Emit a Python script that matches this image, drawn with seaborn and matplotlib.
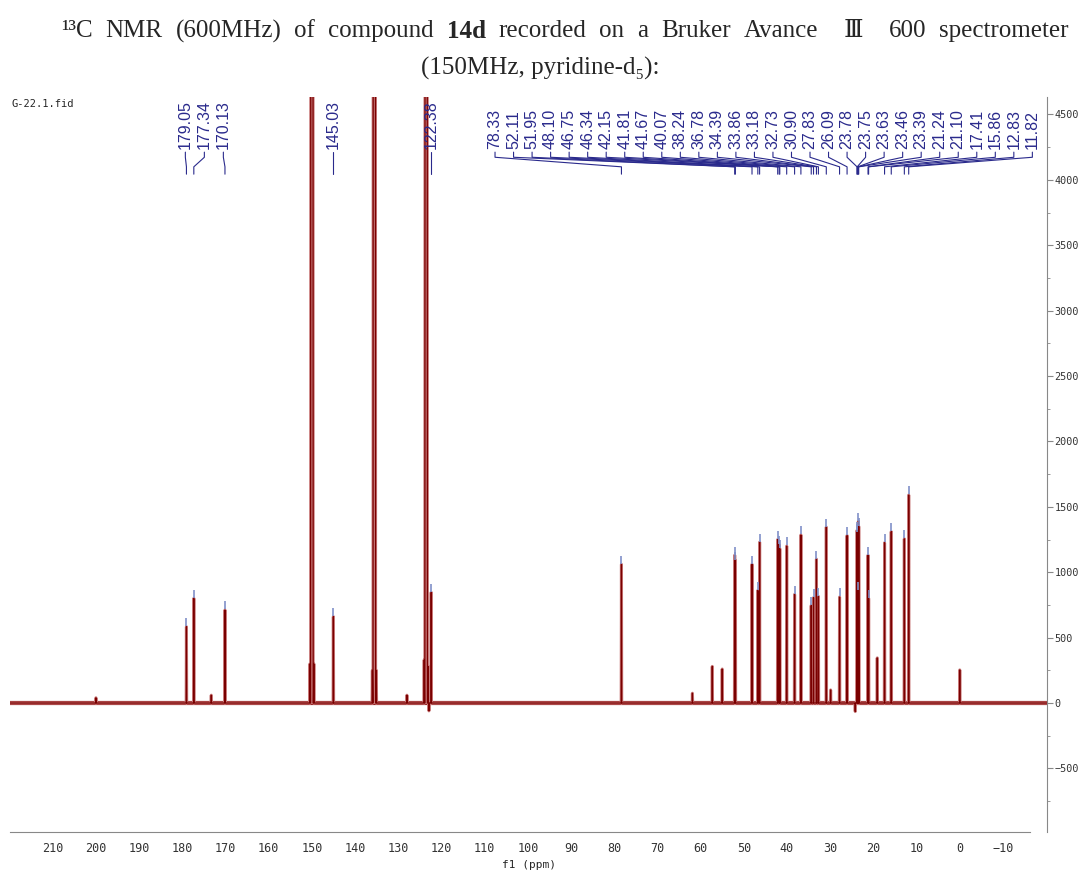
import pandas as pd
import seaborn as sns
import matplotlib.pyplot as plt
from matplotlib.ticker import MultipleLocator

# Peaks picked in the spectrum (ppm) and their heights
label_ppm = [179.05, 177.34, 170.13, 145.03, 122.38, 78.33, 52.11, 51.95, 48.10, 46.75,
             46.34, 42.15, 41.81, 41.67, 40.07, 38.24, 36.78, 34.39, 33.86, 33.18,
             32.73, 30.90, 27.83, 26.09, 23.78, 23.75, 23.63, 23.46, 23.39, 21.24,
             21.10, 17.41, 15.86, 12.83, 11.82]
label_height = [583, 800, 711, 660, 846, 1060, 1130, 1090, 1060, 860,
                1230, 1250, 1210, 1180, 1200, 830, 1285, 745, 805, 1100,
                815, 1345, 810, 1280, 1320, 1300, 860, 1390, 1350, 1130,
                800, 1225, 1310, 1255, 1590]
label_text = ['179.05', '177.34', '170.13', '145.03', '122.38', '78.33', '52.11', '51.95',
              '48.10', '46.75', '46.34', '42.15', '41.81', '41.67', '40.07', '38.24',
              '36.78', '34.39', '33.86', '33.18', '32.73', '30.90', '27.83', '26.09',
              '23.78', '23.75', '23.63', '23.46', '23.39', '21.24', '21.10', '17.41',
              '15.86', '12.83', '11.82']

# small unlabelled signals, dips and TMS
minor_ppm = [200.0, 173.3, 128.0, 122.9, 61.9, 57.3, 55.0, 29.9, 24.2, 19.1, 0.0]
minor_height = [40, 60, 60, -60, 75, 280, 260, 100, -65, 345, 253]

# pyridine-d5 solvent triplets (centre lines run off the top)
solvent_ppm = [150.45, 150.0, 149.55, 136.0, 135.55, 135.1, 124.0, 123.55, 123.1]
solvent_height = [300, 40000, 300, 250, 40000, 250, 330, 40000, 280]

x_ticks = [210, 200, 190, 180, 170, 160, 150, 140, 130, 120, 110, 100, 90, 80, 70, 60,
           50, 40, 30, 20, 10, 0, -10]
y_ticks = [-500, 0, 500, 1000, 1500, 2000, 2500, 3000, 3500, 4000, 4500]

title_words = ['¹³C', 'NMR', '(600MHz)', 'of', 'compound', '14d', 'recorded', 'on', 'a',
               'Bruker', 'Avance', 'Ⅲ', '600', 'spectrometer']
title_line2 = '(150MHz, pyridine-d₅):'

sns.set_style('white')
plt.rcParams['font.family'] = ['Liberation Sans', 'DejaVu Sans']

# stick trace: each peak drawn as a very narrow triangle on the baseline
pts = []
for p, h in zip(label_ppm + minor_ppm, label_height + minor_height):
    w = 0.06
    pts += [(p + w, 0), (p, h), (p - w, 0)]
for p, h in zip(solvent_ppm, solvent_height):
    w = 0.3 if h > 5000 else 0.08
    pts += [(p + w, 0), (p, h), (p - w, 0)]
pts += [(220, 0), (-20.2, 0)]
trace = pd.DataFrame(pts, columns=['ppm', 'intensity']).sort_values('ppm', ascending=False)

fig = plt.figure(figsize=(10.8, 8.72), dpi=100)
ax = fig.add_axes([10 / 1080, 40 / 872, 1037 / 1080, 735 / 872])

# noisy-looking baseline band
ax.axhline(0, color='#8a1010', lw=3.0, zorder=1)
sns.lineplot(data=trace, x='ppm', y='intensity', sort=False, estimator=None,
             color='#c87878', lw=2.2, ax=ax, zorder=2)
sns.lineplot(data=trace, x='ppm', y='intensity', sort=False, estimator=None,
             color='#7a0000', lw=0.9, ax=ax, zorder=3)

# peak pick markers
ax.scatter(label_ppm, [h + 35 for h in label_height], marker='|', s=40,
           color='#8090c8', lw=1.2, zorder=4)

ax.set_xlim(219.9, -20.2)
ax.set_ylim(-986, 4633)

# label positions (ppm) for the multiplet labels
label_x = []
for i in range(len(label_ppm)):
    if i < 3:
        label_x.append(179.3 - 4.4 * i)
    elif i < 5:
        label_x.append(label_ppm[i])
    else:
        label_x.append(107.6 - 4.29 * (i - 5))

tr = ax.get_xaxis_transform()
ya, yb, yc, yd = 0.925, 0.918, 0.905, 0.895
lab_col = '#2a2a8c'
for lx, p, t in zip(label_x, label_ppm, label_text):
    ax.text(lx, ya + 0.004, t, rotation=90, ha='center', va='bottom', transform=tr,
            fontsize=11.5, color=lab_col, family=['Liberation Sans'])
    ax.plot([lx, lx, p, p], [ya, yb, yc, yd], transform=tr, color=lab_col, lw=0.8,
            clip_on=False)

# axes styling
for s in ['top', 'left']:
    ax.spines[s].set_visible(False)
ax.spines['bottom'].set_bounds(219.9, -16.3)
ax.spines['bottom'].set_color('#888888')
ax.spines['right'].set_color('#888888')
ax.yaxis.tick_right()
ax.set_yticks(y_ticks)
ax.set_xticks(x_ticks)
ax.xaxis.set_minor_locator(MultipleLocator(5))
ax.yaxis.set_minor_locator(MultipleLocator(250))
ax.tick_params(axis='both', which='major', direction='out', length=4, color='#888888',
               labelcolor='#333333')
ax.tick_params(axis='y', which='major', pad=1.5)
ax.tick_params(axis='both', which='minor', direction='out', length=2, color='#888888')
for lbl in ax.get_yticklabels():
    lbl.set_family('DejaVu Sans Mono')
    lbl.set_fontsize(7.3)
for lbl in ax.get_xticklabels():
    lbl.set_family('DejaVu Sans Mono')
    lbl.set_fontsize(8.5)
ax.set_xlabel('f1 (ppm)', family='DejaVu Sans Mono', fontsize=8, labelpad=3)
ax.set_ylabel('')

fig.text(12 / 1080, 1 - 104 / 872, 'G-22.1.fid', family='DejaVu Sans Mono', fontsize=7.5,
         va='center', ha='left')

# title line 1 is justified across the width (double space round Ⅲ), line 2 centred
fam = ['Liberation Serif', 'DejaVu Serif', 'Noto Sans CJK SC']
fsize = 18
x_left, x_right = 61, 1069
words = []
for w in title_words:
    t = fig.text(0, 1 - 31 / 872, w, family=fam, fontsize=fsize, va='center', ha='left',
                 fontweight='bold' if w == '14d' else 'normal')
    words.append(t)
fig.canvas.draw()
r = fig.canvas.get_renderer()
widths = [t.get_window_extent(r).width for t in words]
gap_units = [2 if title_words[i] == 'Ⅲ' or title_words[i + 1] == 'Ⅲ' else 1
             for i in range(len(words) - 1)]
gap = (x_right - x_left - sum(widths)) / sum(gap_units)
x = x_left
for i, (t, wd) in enumerate(zip(words, widths)):
    t.set_x(x / 1080)
    if i < len(gap_units):
        x += wd + gap * gap_units[i]
fig.text(540 / 1080, 1 - 68 / 872, title_line2, family=fam, fontsize=fsize,
         ha='center', va='center')

fig.savefig('out.png', dpi=100)
